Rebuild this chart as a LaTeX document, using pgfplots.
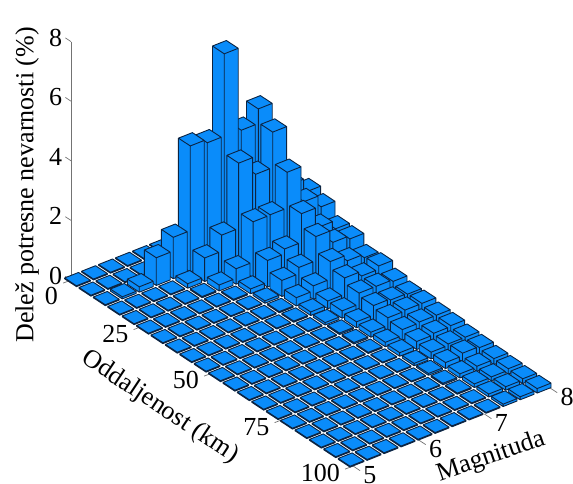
\documentclass[border=0pt]{standalone}
\usepackage{fontspec}
\setmainfont{Liberation Serif}
\usepackage{pgfplots}
\usepackage{pgfplotstable}
\pgfplotsset{compat=1.18}
\definecolor{barblue}{RGB}{10,140,250}
\definecolor{baredge}{RGB}{12,36,66}
\pgfplotstableread{
c0 c1 c2 c3 c4 c5 c6 c7 c8 c9 c10 c11
.03 .03 .03 .03 .03 .03 .03 .03 .03 .03 .03 .03
.03 .03 .03 .03 .03 .03 .03 .03 .03 .03 .03 .03
.03 .07 .18 .93 1.39 4.23 4.11 6.87 4.08 4.57 1.5 1.4
.03 .03 .03 .03 .15 .79 1.33 3.52 2.92 4.11 2.12 1.66
.03 .03 .03 .03 .04 .2 .52 1.87 1.88 3.08 1.87 1.47
.03 .03 .03 .03 .03 .04 .16 .89 1.05 2.01 1.33 1.05
.03 .03 .03 .03 .03 .03 .08 .54 .75 1.56 1.14 1.03
.03 .03 .03 .03 .03 .03 .04 .28 .45 1.04 .84 .72
.03 .03 .03 .03 .03 .03 .04 .12 .26 .81 .65 .76
.03 .03 .03 .03 .03 .03 .03 .08 .25 .62 .62 .56
.03 .03 .03 .03 .03 .03 .03 .05 .2 .52 .48 .45
.03 .03 .03 .03 .03 .03 .03 .05 .17 .43 .46 .46
.03 .03 .03 .03 .03 .03 .03 .04 .15 .35 .38 .38
.03 .03 .03 .03 .03 .03 .03 .03 .12 .27 .32 .35
.03 .03 .03 .03 .03 .03 .03 .03 .08 .23 .28 .28
.03 .03 .03 .03 .03 .03 .03 .03 .06 .2 .29 .25
.03 .03 .03 .03 .03 .03 .03 .03 .05 .14 .17 .2
.03 .03 .03 .03 .03 .03 .03 .03 .04 .12 .13 .18
.03 .03 .03 .03 .03 .03 .03 .03 .03 .1 .12 .16
.03 .03 .03 .03 .03 .03 .03 .03 .03 .08 .1 .15
}\haz
\newcommand{\bigf}{\fontsize{26}{26}\selectfont}
\begin{document}
\begin{tikzpicture}[x=1pt,y=1pt]
\path[use as bounding box] (0,0) rectangle (573,483);
\begin{axis}[
  at={(71pt,203pt)}, anchor=origin,
  disabledatascaling,
  x={(2.82pt,-1.86pt)}, y={(65.7pt,26pt)}, z={(0pt,29.8pt)},
  xmin=0,xmax=100,ymin=5,ymax=8,zmin=0,zmax=8,
  clip=false,
  separate axis lines,
  x axis line style={draw=none},
  y axis line style={draw=none},
  z axis line style={draw=none},
  tick align=outside,
  major tick length=8pt,
  major tick style={draw=none},
  xtick={0,25,50,75,100},
  xticklabels={\raisebox{-18pt}[17pt][18pt]{0},25,50,75,100},
  ytick={5,6,7,8},
  ztick={0,2,4,6,8},
  /pgf/number format/assume math mode=true,
  ticklabel style={font=\bigf,inner sep=0pt},
  xticklabel style={anchor=east,xshift=-5.5pt,yshift=-4.5pt},
  yticklabel style={anchor=center,xshift=10.3pt,yshift=-4.6pt},
  zticklabel style={anchor=center,xshift=-8pt,yshift=7pt},
  grid=none,
]
% axis line and tick marks
\addplot3[black!55,line width=1pt,no marks] coordinates {(0,5,0) (0,5,8)};
\addplot3[black!55,line width=.7pt,no marks] coordinates {(0,5,0) (-2,5,0)};
\addplot3[black!55,line width=.7pt,no marks] coordinates {(0,5,2) (-2,5,2)};
\addplot3[black!55,line width=.7pt,no marks] coordinates {(0,5,4) (-2,5,4)};
\addplot3[black!55,line width=.7pt,no marks] coordinates {(0,5,6) (-2,5,6)};
\addplot3[black!55,line width=.7pt,no marks] coordinates {(0,5,8) (-2,5,8)};
\addplot3[black!55,line width=.7pt,no marks] coordinates {(0,5,0) (0,4.88,0)};
\addplot3[black!55,line width=.7pt,no marks] coordinates {(25,5,0) (25,4.88,0)};
\addplot3[black!55,line width=.7pt,no marks] coordinates {(50,5,0) (50,4.88,0)};
\addplot3[black!55,line width=.7pt,no marks] coordinates {(75,5,0) (75,4.88,0)};
\addplot3[black!55,line width=.7pt,no marks] coordinates {(100,5,0) (100,4.88,0)};
\addplot3[black!55,line width=.7pt,no marks] coordinates {(100,5,0) (102.5,5,0)};
\addplot3[black!55,line width=.7pt,no marks] coordinates {(100,6,0) (102.5,6,0)};
\addplot3[black!55,line width=.7pt,no marks] coordinates {(100,7,0) (102.5,7,0)};
\addplot3[black!55,line width=.7pt,no marks] coordinates {(100,8,0) (102.5,8,0)};
\pgfplotsforeachungrouped \i in {0,...,19}{
  \pgfplotsforeachungrouped \jj in {11,10,...,0}{
    \pgfplotstablegetelem{\i}{c\jj}\of\haz
    \let\hz\pgfplotsretval
    \pgfmathsetmacro\da{.864+5.106*\i-2.1}
    \pgfmathsetmacro\db{.864+5.106*\i+2.1}
    \pgfmathsetmacro\ma{5.062+.2588*\jj-.106}
    \pgfmathsetmacro\mb{5.062+.2588*\jj+.106}
    \edef\temp{\noexpand\addplot3[fill=barblue,draw=baredge,line width=0.9pt,line join=round,no marks] coordinates {
      (\db,\ma,0) (\db,\mb,0) (\db,\mb,\hz) (\da,\mb,\hz) (\da,\ma,\hz) (\da,\ma,0) (\db,\ma,0)
      (\db,\ma,\hz) (\db,\mb,\hz) (\db,\ma,\hz) (\da,\ma,\hz) (\db,\ma,\hz) (\db,\ma,0)};}
    \temp
  }
}
\end{axis}
\node[rotate=90,font=\bigf] at (27,298) {Delež potresne nevarnosti (\%)};
\node[rotate=-33.7,font=\bigf] at (160,76) {Oddaljenost (km)};
\node[rotate=19,font=\bigf] at (491,26) {Magnituda};
\end{tikzpicture}
\end{document}
